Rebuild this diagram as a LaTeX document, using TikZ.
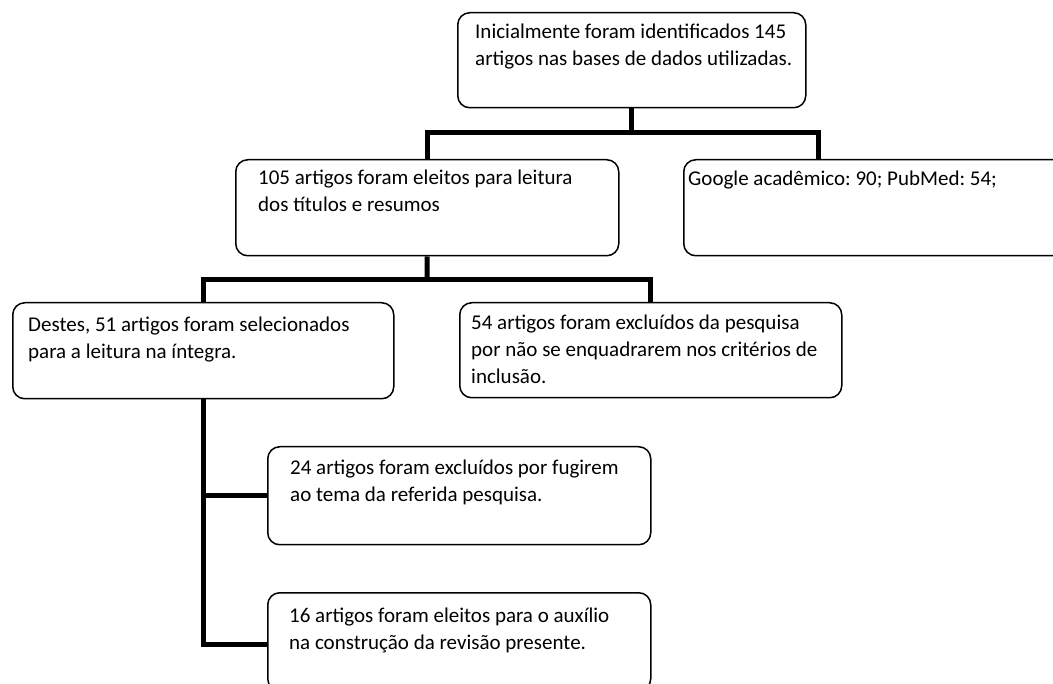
\documentclass[tikz,border=0pt]{standalone}
\usepackage{fontspec}
\setmainfont{Carlito}
\frenchspacing
\begin{document}
\begin{tikzpicture}[x=1pt,y=-1pt,
  box/.style={draw, rounded corners=12pt, line width=1.5pt, anchor=north west, inner sep=0pt},
  txt/.style={anchor=base west, align=left, inner sep=0pt, font=\fontsize{21}{27}\selectfont},
  conn/.style={line width=5pt}]
\useasboundingbox (0,0) rectangle (1053,684);
% boxes
\node[box, minimum width=348pt, minimum height=95pt] (b1) at (457,12) {};
\node[box, minimum width=383pt, minimum height=96pt] (b2) at (235,159) {};
\node[box, minimum width=390pt, minimum height=96pt] (g) at (683,159) {};
\node[box, minimum width=381pt, minimum height=96pt] (d) at (12,302) {};
\node[box, minimum width=382pt, minimum height=95pt] (e) at (459,302) {};
\node[box, minimum width=383pt, minimum height=98pt] (f) at (267,446) {};
\node[box, minimum width=383pt, minimum height=98pt] (s) at (267,592) {};
% texts (anchored at the baseline of their last line)
\node[txt] (t1) at (475,66) {Inicialmente foram identificados 145\\artigos nas bases de dados utilizadas.};
\node[txt] (t2) at (258,212) {105 artigos foram eleitos para leitura\\dos títulos e resumos};
\node[txt] (tg) at (688,186) {Google acadêmico: 90; PubMed: 54;};
\node[txt] (td) at (28,359) {Destes, 51 artigos foram selecionados\\para a leitura na íntegra.};
\node[txt] (te) at (471,384) {54 artigos foram excluídos da pesquisa\\por não se enquadrarem nos critérios de\\inclusão.};
\node[txt] (tf) at (290,502) {24 artigos foram excluídos por fugirem\\ao tema da referida pesquisa.};
\node[txt] (ts) at (289,649) {16 artigos foram eleitos para o auxílio\\na construção da revisão presente.};
% connectors
\coordinate (j1) at (b1.south |- 0,133);
\coordinate (g1) at (818,159);
\coordinate (j2) at (427,280);
\draw[conn] (b1.south) -- (j1);
\draw[conn] (b2.north) |- (j1) -| (g1);
\draw[conn] (b2.south) -- (j2);
\draw[conn] (d.north) |- (j2) -| (e.north);
\draw[conn] (d.south) |- ([yshift=-3pt]s.west);
\draw[conn] (f.west) -- (f.west -| d.south);
\end{tikzpicture}
\end{document}
